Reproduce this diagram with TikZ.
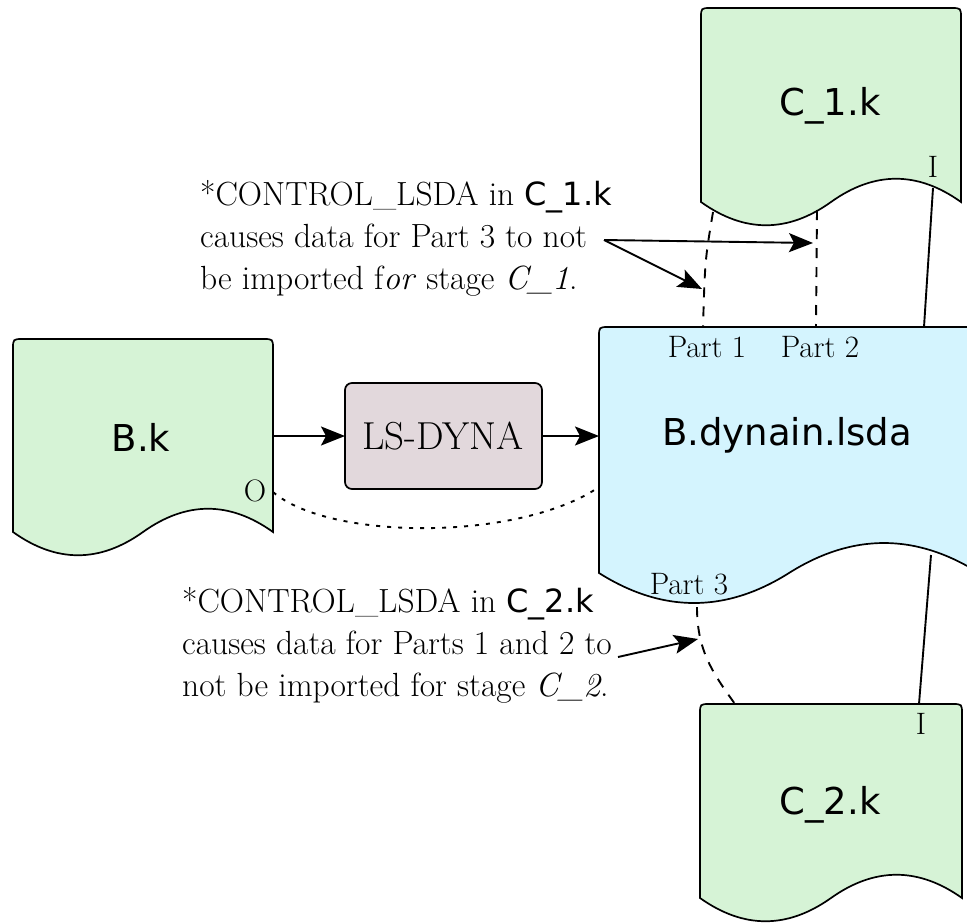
\documentclass[tikz,border=0pt]{standalone}
\usepackage{fontspec}
\newfontfamily\sansf{DejaVu Sans}
\usetikzlibrary{arrows.meta}
\definecolor{docgreen}{RGB}{214,243,214}
\definecolor{docblue}{RGB}{212,244,254}
\definecolor{procgray}{RGB}{226,216,220}
% x, y (top left), width, side height, wave amplitude, style
\newcommand\docshape[6]{%
  \path[#6] (#1,{#2+#4}) -- (#1,{#2+10}) .. controls (#1,#2) .. ({#1+10},#2)
    -- ({#1+#3-10},#2) .. controls ({#1+#3},#2) .. ({#1+#3},{#2+10})
    -- ({#1+#3},{#2+#4})
    .. controls ({#1+#3*5/6},{#2+#4-#5}) and ({#1+#3*4/6},{#2+#4-#5}) .. ({#1+#3/2},{#2+#4})
    .. controls ({#1+#3/3},{#2+#4+#5}) and ({#1+#3/6},{#2+#4+#5}) .. (#1,{#2+#4}) -- cycle;}
\tikzset{
  shapeline/.style={draw=black, line width=1.7pt},
  doclabel/.style={font=\sansf\fontsize{37}{44}\selectfont, inner sep=0pt},
  note/.style={font=\fontsize{33.5}{42}\selectfont, align=left, inner sep=0pt, anchor=north west},
  tag/.style={font=\fontsize{31}{36}\selectfont, inner sep=0pt},
  conn/.style={line width=1.9pt},
  arr/.style={conn, -{Stealth[length=24pt, width=19pt, inset=5pt]}},
  dashln/.style={conn, dash pattern=on 10pt off 9pt},
  dotln/.style={conn, dash pattern=on 4pt off 7pt},
}
\begin{document}
\begin{tikzpicture}[x=1pt, y=-1pt]
\clip (0,0) rectangle (967,922);
\fill[white] (0,0) rectangle (967,922);

% shapes
\docshape{701}{8}{260}{194}{31}{shapeline, fill=docgreen}
\docshape{13}{339}{260}{193}{31}{shapeline, fill=docgreen}
\docshape{599}{327}{380}{246}{40}{shapeline, fill=docblue}
\docshape{700}{704}{262}{194}{31}{shapeline, fill=docgreen}
\draw[shapeline, fill=procgray, rounded corners=7pt] (345,383) rectangle (542,489);

% labels
\node[doclabel] (c1) at (830,106) {C\_1.k};
\node[doclabel] (bk) at (141,437) {B.k};
\node[doclabel] (bd) at (787,435) {B.dynain.lsda};
\node[doclabel] (c2) at (830,805) {C\_2.k};
\node[font=\fontsize{39}{44}\selectfont, inner sep=0pt] (ls) at (443,436) {LS-DYNA};

\node[tag] (i1) at (933,167) {I};
\node[tag] (i2) at (921,724) {I};
\node[tag] (o1) at (255,491) {O};
\node[tag] (p1) at (707,347) {Part 1};
\node[tag] (p2) at (820,347) {Part 2};
\node[tag] (p3) at (689,584) {Part 3};

\node[note] (n1) at (200,180) {*CONTROL\_LSDA in {\sansf\fontsize{32}{42}\selectfont C\_1.k}\\
causes data for Part 3 to not\\
be imported f\textit{or} stage \textit{C\_1}.};
\node[note] (n2) at (182,587) {*CONTROL\_LSDA in {\sansf\fontsize{32}{42}\selectfont C\_2.k}\\
causes data for Parts 1 and 2 to\\
not be imported for stage \textit{C\_2}.};

% connector end points
\coordinate (bkR) at (273,436);
\coordinate (lsL) at (345,436);
\coordinate (lsR) at (542,436);
\coordinate (bdL) at (599,436);
\coordinate (bkO) at (273,492);
\coordinate (bdO) at (599,487);
\coordinate (c1P1) at (713,212);
\coordinate (bdP1) at (703,327);
\coordinate (c1P2) at (817,210);
\coordinate (bdP2) at (816,327);
\coordinate (c1I) at (933,188);
\coordinate (bdI1) at (924,327);
\coordinate (bdI2) at (931,555);
\coordinate (c2I) at (919,704);
\coordinate (bdP3) at (697,607);
\coordinate (c2P3) at (735,704);
\coordinate (n1a) at (604,240);
\coordinate (t1) at (813,243);
\coordinate (t2) at (702,289);
\coordinate (n2a) at (618,657);
\coordinate (t3) at (698,639);

% connectors
\draw[arr] (bkR) -- (lsL);
\draw[arr] (lsR) -- (bdL);
\draw[dotln] (bkO) .. controls (330,541) and (520,541) .. (bdO);
\draw[dashln] (c1P1) .. controls (705,260) .. (bdP1);
\draw[dashln] (c1P2) -- (bdP2);
\draw[conn] (c1I) -- (bdI1);
\draw[conn] (bdI2) -- (c2I);
\draw[dashln] (bdP3) .. controls (697,650) and (712,672) .. (c2P3);
\draw[arr] (n1a) -- (t1);
\draw[arr] (n1a) -- (t2);
\draw[arr] (n2a) -- (t3);
\end{tikzpicture}
\end{document}
